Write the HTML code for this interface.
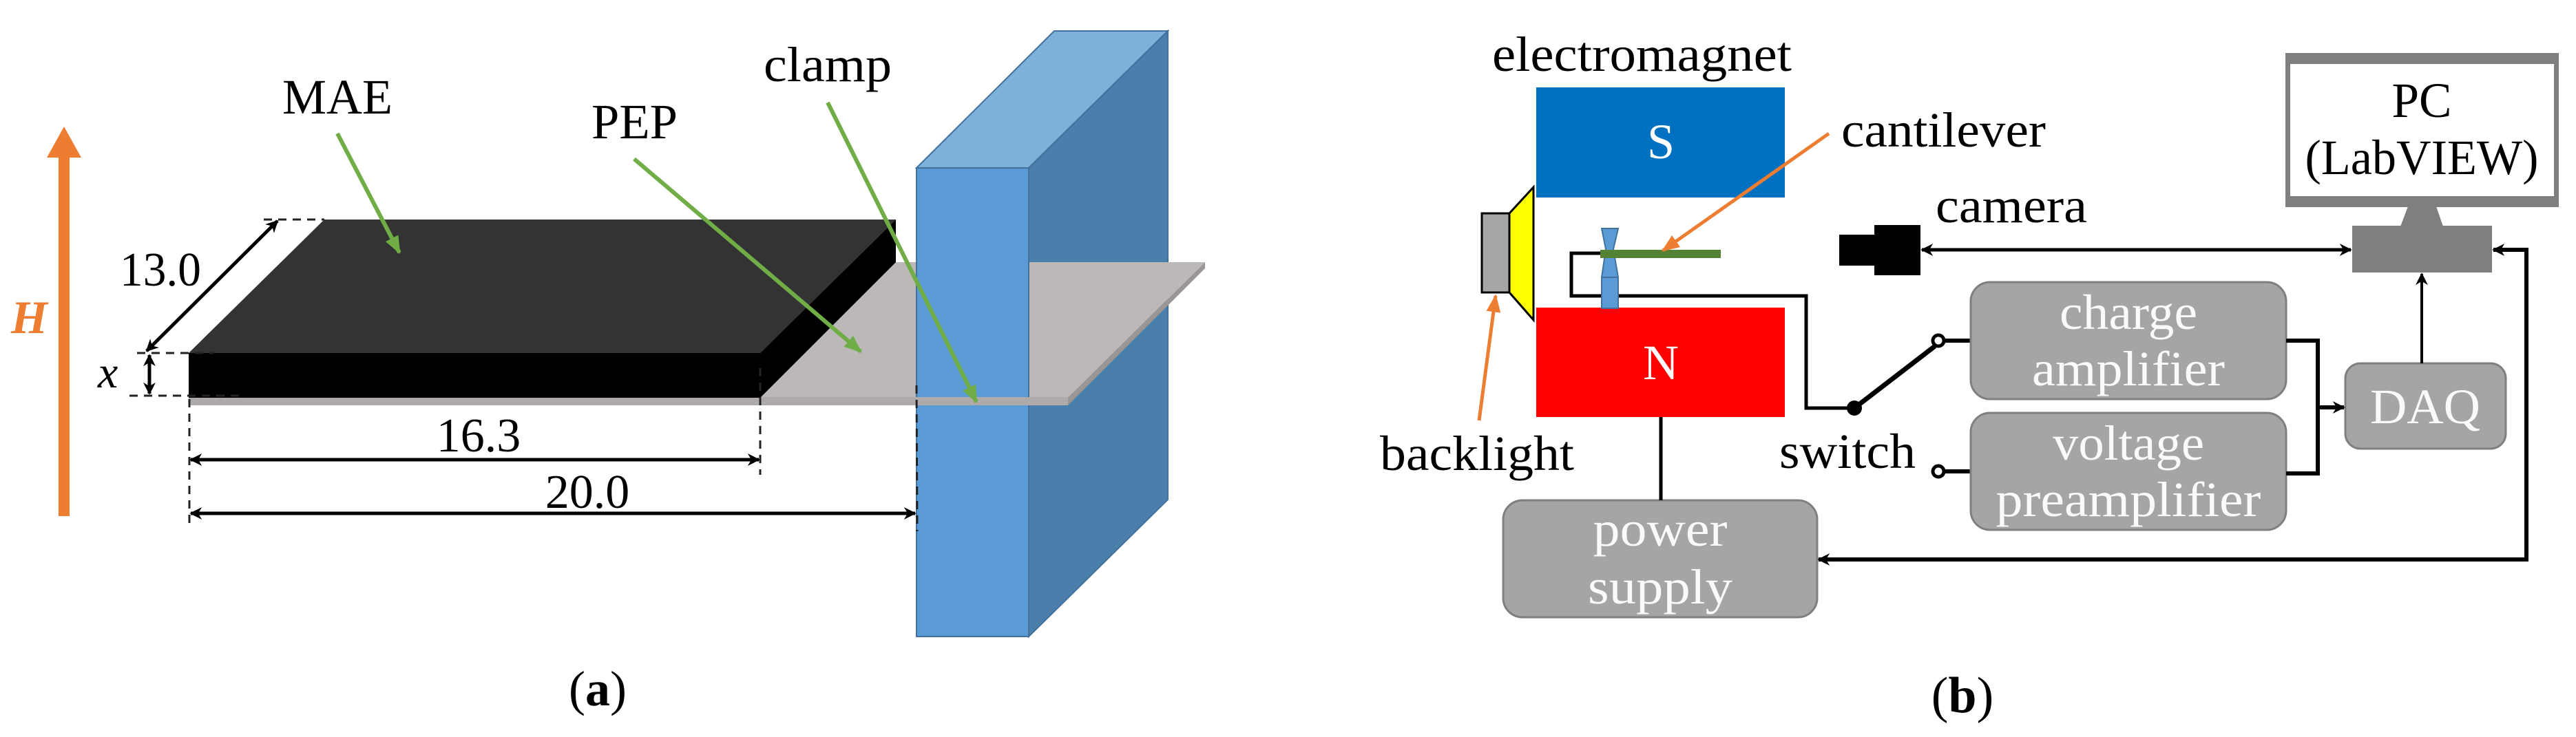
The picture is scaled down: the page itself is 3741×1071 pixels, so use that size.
<!DOCTYPE html>
<html><head><meta charset="utf-8"><style>
html,body{margin:0;padding:0;background:#fff;}
svg{display:block;}
svg text{font-family:"Liberation Serif","DejaVu Serif",serif;}
</style></head><body>
<svg width="3741" height="1071" viewBox="0 0 3741 1071" xmlns="http://www.w3.org/2000/svg" font-family="'Liberation Serif', 'DejaVu Serif', serif">
<defs>
<marker id="a" viewBox="0 0 10 10" refX="9" refY="5" markerWidth="18" markerHeight="18" orient="auto-start-reverse" markerUnits="userSpaceOnUse"><path d="M0,0 L10,5 L0,10 L3,5 z" fill="#000"/></marker>
<marker id="g" viewBox="0 0 10 10" refX="9" refY="5" markerWidth="26" markerHeight="26" orient="auto" markerUnits="userSpaceOnUse"><path d="M0,1 L10,5 L0,9 z" fill="#70ad47"/></marker>
<marker id="o" viewBox="0 0 10 10" refX="9" refY="5" markerWidth="26" markerHeight="26" orient="auto" markerUnits="userSpaceOnUse"><path d="M0,1 L10,5 L0,9 z" fill="#ed7d31"/></marker>
</defs>

<!-- ============ PANEL A ============ -->
<polygon points="85,750 101,750 101,229 118,229 93,184 68,229 85,229" fill="#ed7d31"/>
<text x="16" y="484" font-size="68" font-style="italic" font-weight="bold" fill="#ed7d31">H</text>

<polygon points="1331,244 1531,45 1696,45 1494,244" fill="#7eb0dc" stroke="#41719c" stroke-width="2"/>
<polygon points="1494,244 1696,45 1696,726 1494,925" fill="#4a7eab" stroke="#41719c" stroke-width="2"/>

<polygon points="274,578 1301,381 1750,381 1551,578" fill="#bcb8b7"/>
<polygon points="1551,578 1750,381 1750,390 1551,589" fill="#9a9696"/>

<rect x="1331" y="244" width="163" height="681" fill="#5b9bd5" stroke="#41719c" stroke-width="2"/>

<rect x="274" y="577" width="1277" height="12" fill="#aeaaaa"/>

<polygon points="471,319 1301,319 1104,513 274,513" fill="#333333"/>
<polygon points="1104,513 1301,319 1301,381 1104,578" fill="#000"/>
<rect x="274" y="513" width="830" height="65" fill="#000"/>

<g stroke="#222" stroke-width="3" stroke-dasharray="12,9" fill="none">
<line x1="383" y1="319" x2="471" y2="319"/>
<line x1="199" y1="513" x2="310" y2="513"/>
<line x1="188" y1="575" x2="353" y2="575"/>
<line x1="275" y1="580" x2="275" y2="761"/>
<line x1="1104" y1="535" x2="1104" y2="690"/>
<line x1="1331" y1="560" x2="1332" y2="772"/>
</g>

<g stroke="#000" stroke-width="5" fill="none">
<line x1="277" y1="668" x2="1102" y2="668" marker-start="url(#a)" marker-end="url(#a)"/>
<line x1="277" y1="746" x2="1329" y2="746" marker-start="url(#a)" marker-end="url(#a)"/>
<line x1="213" y1="510" x2="403" y2="321" marker-start="url(#a)" marker-end="url(#a)"/>
<line x1="217" y1="516" x2="217" y2="572" marker-start="url(#a)" marker-end="url(#a)"/>
</g>
<text x="174" y="415" font-size="70" textLength="118" lengthAdjust="spacingAndGlyphs">13.0</text>
<text x="142" y="563" font-size="66" font-style="italic">x</text>
<text x="695" y="656" font-size="70" text-anchor="middle">16.3</text>
<text x="853" y="738" font-size="70" text-anchor="middle">20.0</text>

<g stroke="#70ad47" stroke-width="6" fill="none">
<line x1="490" y1="194" x2="580" y2="367" marker-end="url(#g)"/>
<line x1="921" y1="231" x2="1250" y2="511" marker-end="url(#g)"/>
<line x1="1202" y1="149" x2="1418" y2="584" marker-end="url(#g)"/>
</g>
<text x="410" y="165" font-size="72" textLength="160" lengthAdjust="spacingAndGlyphs">MAE</text>
<text x="859" y="201" font-size="72" textLength="125" lengthAdjust="spacingAndGlyphs">PEP</text>
<text x="1109" y="118" font-size="72" textLength="186" lengthAdjust="spacingAndGlyphs">clamp</text>

<text x="868" y="1025" font-size="72" text-anchor="middle">(<tspan font-weight="bold">a</tspan>)</text>

<!-- ============ PANEL B ============ -->
<text x="2167" y="103" font-size="72" textLength="435" lengthAdjust="spacingAndGlyphs">electromagnet</text>
<rect x="2231" y="127" width="361" height="160" fill="#0070c0"/>
<text x="2412" y="230" font-size="72" fill="#fff" text-anchor="middle">S</text>
<rect x="2231" y="447" width="361" height="159" fill="#ff0000"/>
<text x="2412" y="551" font-size="72" fill="#fff" text-anchor="middle">N</text>

<rect x="2152" y="310" width="40" height="115" fill="#a6a6a6" stroke="#000" stroke-width="3"/>
<polygon points="2192,310 2227,272 2227,465 2192,425" fill="#ffff00" stroke="#000" stroke-width="3"/>

<polyline points="2328,368 2282,368 2282,430 2623,430 2623,593 2693,593" fill="none" stroke="#000" stroke-width="5"/>

<polygon points="2326,332 2350,332 2343,362 2350,403 2350,448 2326,448 2326,403 2332,362" fill="#5b9bd5" stroke="#41719c" stroke-width="2"/>
<line x1="2326" y1="403" x2="2350" y2="403" stroke="#41719c" stroke-width="2"/>
<rect x="2324" y="363" width="175" height="12" fill="#548235"/>

<g stroke="#ed7d31" stroke-width="5" fill="none">
<line x1="2656" y1="194" x2="2415" y2="364" marker-end="url(#o)"/>
<line x1="2148" y1="611" x2="2172" y2="430" marker-end="url(#o)"/>
</g>
<text x="2674" y="213" font-size="72" textLength="297" lengthAdjust="spacingAndGlyphs">cantilever</text>
<text x="2004" y="683" font-size="72" textLength="282" lengthAdjust="spacingAndGlyphs">backlight</text>

<line x1="2693" y1="593" x2="2810" y2="503" stroke="#000" stroke-width="7"/>
<circle cx="2693" cy="593" r="11" fill="#000"/>
<circle cx="2815" cy="495" r="8" fill="#fff" stroke="#000" stroke-width="5"/>
<circle cx="2815" cy="685" r="8" fill="#fff" stroke="#000" stroke-width="5"/>
<line x1="2823" y1="495" x2="2862" y2="495" stroke="#000" stroke-width="6"/>
<line x1="2823" y1="685" x2="2862" y2="685" stroke="#000" stroke-width="6"/>
<text x="2584" y="680" font-size="72" textLength="198" lengthAdjust="spacingAndGlyphs">switch</text>

<g fill="#a5a5a5" stroke="#7f7f7f" stroke-width="3">
<rect x="2862" y="410" width="458" height="170" rx="28"/>
<rect x="2862" y="600" width="458" height="170" rx="28"/>
<rect x="3406" y="528" width="233" height="124" rx="22"/>
<rect x="2183" y="727" width="456" height="170" rx="28"/>
</g>
<g fill="#fafafa" font-size="72" text-anchor="middle">
<text x="3091" y="478" textLength="200" lengthAdjust="spacingAndGlyphs">charge</text>
<text x="3091" y="560" textLength="280" lengthAdjust="spacingAndGlyphs">amplifier</text>
<text x="3091" y="668" textLength="220" lengthAdjust="spacingAndGlyphs">voltage</text>
<text x="3091" y="750" textLength="385" lengthAdjust="spacingAndGlyphs">preamplifier</text>
<text x="3522" y="615" textLength="160" lengthAdjust="spacingAndGlyphs">DAQ</text>
<text x="2411" y="793" textLength="195" lengthAdjust="spacingAndGlyphs">power</text>
<text x="2411" y="877" textLength="210" lengthAdjust="spacingAndGlyphs">supply</text>
</g>

<polyline points="3320,495 3366,495 3366,688 3320,688" fill="none" stroke="#000" stroke-width="6"/>
<line x1="3366" y1="592" x2="3404" y2="592" stroke="#000" stroke-width="6" marker-end="url(#a)"/>
<line x1="3517" y1="528" x2="3517" y2="398" stroke="#000" stroke-width="4" marker-end="url(#a)"/>

<rect x="3319" y="77" width="397" height="224" fill="#7f7f7f"/>
<rect x="3326" y="93" width="383" height="192" fill="#fff"/>
<polygon points="3497,300 3538,300 3548,329 3486,329" fill="#7f7f7f"/>
<rect x="3416" y="328" width="203" height="68" fill="#7f7f7f"/>
<text x="3517" y="170" font-size="72" text-anchor="middle" textLength="87" lengthAdjust="spacingAndGlyphs">PC</text>
<text x="3517" y="253" font-size="72" text-anchor="middle" textLength="339" lengthAdjust="spacingAndGlyphs">(LabVIEW)</text>

<rect x="2671" y="341" width="52" height="45" fill="#000"/>
<rect x="2722" y="327" width="67" height="73" fill="#000"/>
<text x="2811" y="323" font-size="72" textLength="220" lengthAdjust="spacingAndGlyphs">camera</text>
<line x1="2791" y1="363" x2="3414" y2="363" stroke="#000" stroke-width="5" marker-start="url(#a)" marker-end="url(#a)"/>

<polyline points="3621,363 3669,363 3669,813 2641,813" fill="none" stroke="#000" stroke-width="6" marker-start="url(#a)" marker-end="url(#a)"/>
<line x1="2412" y1="606" x2="2412" y2="727" stroke="#000" stroke-width="5"/>

<text x="2850" y="1035" font-size="74" text-anchor="middle">(<tspan font-weight="bold">b</tspan>)</text>
</svg>
</body></html>
